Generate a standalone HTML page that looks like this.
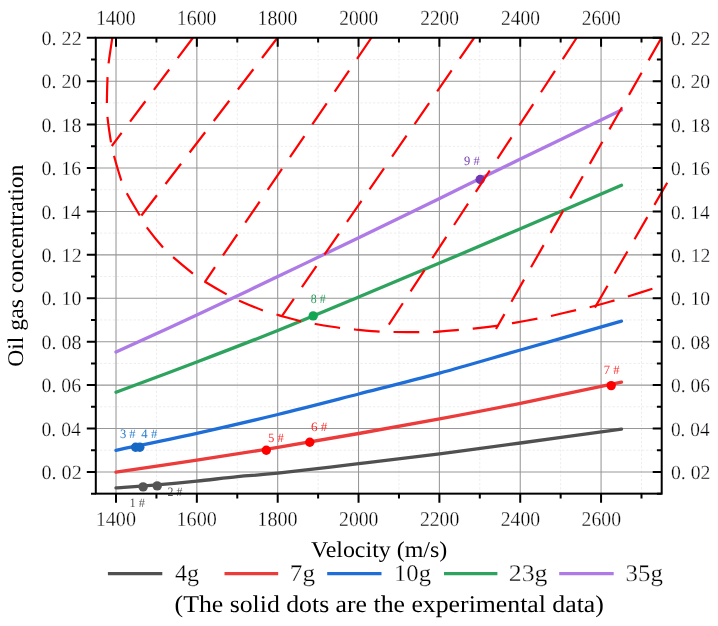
<!DOCTYPE html>
<html><head><meta charset="utf-8"><style>
html,body{margin:0;padding:0;background:#fff;}
body{width:718px;height:626px;overflow:hidden;}
svg{display:block;will-change:transform;}
text{font-family:"Liberation Serif",serif;text-rendering:geometricPrecision;}
.tk{stroke:#fff;stroke-width:0.3px;paint-order:normal;}
.gmin{fill:none;stroke:#ededed;stroke-width:1;stroke-dasharray:2.4 1.8;}
.gmaj{fill:none;stroke:#979797;stroke-width:1.05;}
.dash{fill:none;stroke:#ff0000;stroke-width:2.2;stroke-dasharray:25.5 14.17;stroke-linecap:butt;stroke-linejoin:miter;}
</style></head><body>
<svg width="718" height="626" viewBox="0 0 718 626">
<path d="M156.43,37.75 V493.65 M237.28,37.75 V493.65 M318.12,37.75 V493.65 M398.96,37.75 V493.65 M479.8,37.75 V493.65 M560.65,37.75 V493.65 M641.49,37.75 V493.65 M95.8,450.23 H661.7 M95.8,406.81 H661.7 M95.8,363.39 H661.7 M95.8,319.97 H661.7 M95.8,276.55 H661.7 M95.8,233.14 H661.7 M95.8,189.72 H661.7 M95.8,146.3 H661.7 M95.8,102.88 H661.7 M95.8,59.46 H661.7" class="gmin"/>
<path d="M116.01,37.75 V493.65 M196.85,37.75 V493.65 M277.7,37.75 V493.65 M358.54,37.75 V493.65 M439.38,37.75 V493.65 M520.23,37.75 V493.65 M601.07,37.75 V493.65 M95.8,471.94 H661.7 M95.8,428.52 H661.7 M95.8,385.1 H661.7 M95.8,341.68 H661.7 M95.8,298.26 H661.7 M95.8,254.85 H661.7 M95.8,211.43 H661.7 M95.8,168.01 H661.7 M95.8,124.59 H661.7 M95.8,81.17 H661.7" class="gmaj"/>
<path d="M116,487.9 C122.8,487.4 143.33,486.02 156.8,484.9 C170.27,483.78 183.32,482.58 196.8,481.2 C210.28,479.82 224.2,477.93 237.7,476.6 C251.2,475.27 257.63,475.35 277.8,473.2 C297.97,471.05 331.73,466.92 358.7,463.7 C385.67,460.48 412.65,457.35 439.6,453.9 C466.55,450.45 490.08,447.12 520.4,443 C550.72,438.88 604.65,431.5 621.5,429.2" fill="none" stroke="#505050" stroke-width="3.3" stroke-linecap="round"/>
<path d="M116,472.2 C129.47,470.18 169.83,464.23 196.8,460.1 C223.77,455.97 250.82,451.83 277.8,447.4 C304.78,442.97 331.73,438.25 358.7,433.5 C385.67,428.75 412.65,423.93 439.6,418.9 C466.55,413.87 490.08,409.43 520.4,403.3 C550.72,397.17 604.65,385.63 621.5,382.1" fill="none" stroke="#eb3b3b" stroke-width="3.3" stroke-linecap="round"/>
<path d="M116,450.3 C129.47,447.47 169.83,439.27 196.8,433.3 C223.77,427.33 250.82,421.05 277.8,414.5 C304.78,407.95 331.73,400.9 358.7,394 C385.67,387.1 412.65,380.43 439.6,373.1 C466.55,365.77 490.08,358.67 520.4,350 C550.72,341.33 604.65,325.92 621.5,321.1" fill="none" stroke="#1f6ed8" stroke-width="3.3" stroke-linecap="round"/>
<path d="M116,392.2 C129.47,387.17 169.83,372.28 196.8,362 C223.77,351.72 250.82,341.33 277.8,330.5 C304.78,319.67 331.73,308.23 358.7,297 C385.67,285.77 412.65,274.48 439.6,263.1 C466.55,251.72 490.08,241.67 520.4,228.7 C550.72,215.73 604.65,192.53 621.5,185.3" fill="none" stroke="#2ea35e" stroke-width="3.3" stroke-linecap="round"/>
<path d="M116,352 C129.47,345.85 169.83,327.68 196.8,315.1 C223.77,302.52 250.82,289.38 277.8,276.5 C304.78,263.62 331.73,250.82 358.7,237.8 C385.67,224.78 412.65,211.53 439.6,198.4 C466.55,185.27 490.08,173.72 520.4,159 C550.72,144.28 604.65,118.25 621.5,110.1" fill="none" stroke="#ae7be6" stroke-width="3.3" stroke-linecap="round"/>
<circle cx="143.1" cy="486.9" r="4.7" fill="#555555"/>
<circle cx="157.2" cy="485.9" r="4.7" fill="#555555"/>
<circle cx="135.6" cy="447.3" r="4.7" fill="#1568c4"/>
<circle cx="139.8" cy="447.3" r="4.7" fill="#1568c4"/>
<circle cx="266.3" cy="450.2" r="4.7" fill="#ff0000"/>
<circle cx="309.8" cy="442.3" r="4.7" fill="#ff0000"/>
<circle cx="611.2" cy="385.6" r="4.7" fill="#ff0000"/>
<circle cx="313.2" cy="315.9" r="4.7" fill="#11a653"/>
<circle cx="480.2" cy="179.5" r="4.7" fill="#7236b0"/>
<text transform="translate(129.51,506.65) scale(0.9697,1)" font-size="12.80" fill="#555555">1 &#35;</text>
<text transform="translate(167.58,495.57) scale(0.9272,1)" font-size="12.80" fill="#555555">2 &#35;</text>
<text transform="translate(119.90,438.27) scale(0.9832,1)" font-size="12.80" fill="#2a7ccc">3 &#35;</text>
<text transform="translate(141.35,438.22) scale(0.9927,1)" font-size="12.80" fill="#2a7ccc">4 &#35;</text>
<text transform="translate(267.96,442.07) scale(0.9915,1)" font-size="12.80" fill="#ff2a2a">5 &#35;</text>
<text transform="translate(310.95,431.47) scale(1.0242,1)" font-size="12.80" fill="#ff2a2a">6 &#35;</text>
<text transform="translate(603.87,374.17) scale(0.9849,1)" font-size="12.80" fill="#ff2a2a">7 &#35;</text>
<text transform="translate(310.85,302.62) scale(0.9291,1)" font-size="12.80" fill="#2a9a5a">8 &#35;</text>
<text transform="translate(464.10,165.17) scale(0.9766,1)" font-size="12.80" fill="#7a3fb5">9 &#35;</text>
<path d="M112.3,37.9 C111.65,42.37 109.2,58 108.4,64.7 C107.6,71.4 107.75,71.55 107.5,78.1 C107.25,84.65 106.9,97.45 106.9,104 C106.9,110.55 106.78,110.82 107.5,117.4 C108.22,123.98 110.1,137.02 111.2,143.5 C112.3,149.98 112.33,149.9 114.1,156.3 C115.87,162.7 119.52,175.43 121.8,181.9 C124.08,188.37 124.68,189.3 127.8,195.1 C130.92,200.9 137.18,211.1 140.5,216.7 C143.82,222.3 143.83,223.43 147.7,228.7 C151.57,233.97 159.32,243.43 163.7,248.3 C168.08,253.17 169,253.58 174,257.9 C179,262.22 188.53,270.22 193.7,274.2 C198.87,278.18 199.35,278.35 205,281.8 C210.65,285.25 221.78,291.72 227.6,294.9 C233.42,298.08 233.87,298.25 239.9,300.9 C245.93,303.55 257.55,308.48 263.8,310.8 C270.05,313.12 274.38,313.9 277.4,314.8 C280.42,315.7 277.83,315.08 281.9,316.2 C285.97,317.32 296.22,320.2 301.8,321.5 C307.38,322.8 308.92,322.9 315.4,324 C321.88,325.1 334.12,327.18 340.7,328.1 C347.28,329.02 348.25,328.9 354.9,329.5 C361.55,330.1 374.05,331.28 380.6,331.7 C387.15,332.12 387.57,331.92 394.2,332 C400.83,332.08 413.7,332.2 420.4,332.2 C427.1,332.2 427.83,332.4 434.4,332 C440.97,331.6 453.3,330.37 459.8,329.8 C466.3,329.23 466.62,329.35 473.4,328.6 C480.18,327.85 493.93,326.22 500.5,325.3 C507.07,324.38 506.4,324.25 512.8,323.1 C519.2,321.95 532.33,319.63 538.9,318.4 C545.47,317.17 545.85,317.12 552.2,315.7 C558.55,314.28 570.62,311.35 577,309.9 C583.38,308.45 584.08,308.63 590.5,307 C596.92,305.37 609.13,301.88 615.5,300.1 C621.87,298.32 622.33,298.25 628.7,296.3 C635.07,294.35 649.53,289.72 653.7,288.4" class="dash"/>
<path d="M193,37.75 L111.8,146" class="dash"/>
<path d="M277.5,37.75 L140.5,216.7" class="dash"/>
<path d="M371.4,37.75 L205,281.8" class="dash"/>
<path d="M474.2,37.75 L281.9,316.2" class="dash"/>
<path d="M576.7,37.75 L384.2,331.7" class="dash"/>
<path d="M661.2,38.2 L496,329" class="dash"/>
<path d="M667.2,182.8 L594.9,307.6" class="dash"/>
<rect x="95.8" y="37.75" width="565.9" height="455.9" fill="none" stroke="#000" stroke-width="2"/>
<path d="M116.01,493.65 V502.65 M116.01,37.75 V46.75 M156.43,493.65 V498.45 M156.43,37.75 V42.55 M196.85,493.65 V502.65 M196.85,37.75 V46.75 M237.28,493.65 V498.45 M237.28,37.75 V42.55 M277.7,493.65 V502.65 M277.7,37.75 V46.75 M318.12,493.65 V498.45 M318.12,37.75 V42.55 M358.54,493.65 V502.65 M358.54,37.75 V46.75 M398.96,493.65 V498.45 M398.96,37.75 V42.55 M439.38,493.65 V502.65 M439.38,37.75 V46.75 M479.8,493.65 V498.45 M479.8,37.75 V42.55 M520.23,493.65 V502.65 M520.23,37.75 V46.75 M560.65,493.65 V498.45 M560.65,37.75 V42.55 M601.07,493.65 V502.65 M601.07,37.75 V46.75 M641.49,493.65 V498.45 M641.49,37.75 V42.55 M95.8,493.65 H91 M661.7,493.65 H656.9 M95.8,471.94 H86.8 M661.7,471.94 H652.7 M95.8,450.23 H91 M661.7,450.23 H656.9 M95.8,428.52 H86.8 M661.7,428.52 H652.7 M95.8,406.81 H91 M661.7,406.81 H656.9 M95.8,385.1 H86.8 M661.7,385.1 H652.7 M95.8,363.39 H91 M661.7,363.39 H656.9 M95.8,341.68 H86.8 M661.7,341.68 H652.7 M95.8,319.97 H91 M661.7,319.97 H656.9 M95.8,298.26 H86.8 M661.7,298.26 H652.7 M95.8,276.55 H91 M661.7,276.55 H656.9 M95.8,254.85 H86.8 M661.7,254.85 H652.7 M95.8,233.14 H91 M661.7,233.14 H656.9 M95.8,211.43 H86.8 M661.7,211.43 H652.7 M95.8,189.72 H91 M661.7,189.72 H656.9 M95.8,168.01 H86.8 M661.7,168.01 H652.7 M95.8,146.3 H91 M661.7,146.3 H656.9 M95.8,124.59 H86.8 M661.7,124.59 H652.7 M95.8,102.88 H91 M661.7,102.88 H656.9 M95.8,81.17 H86.8 M661.7,81.17 H652.7 M95.8,59.46 H91 M661.7,59.46 H656.9 M95.8,37.75 H86.8 M661.7,37.75 H652.7" stroke="#000" stroke-width="2" fill="none"/>
<text transform="translate(95.91,25.04) scale(0.9279,1)" font-size="21.45" fill="#000" class="tk">1400</text>
<text transform="translate(95.64,525.64) scale(0.9602,1)" font-size="21.01" fill="#000" class="tk">1400</text>
<text transform="translate(176.75,25.04) scale(0.9279,1)" font-size="21.45" fill="#000" class="tk">1600</text>
<text transform="translate(176.48,525.64) scale(0.9602,1)" font-size="21.01" fill="#000" class="tk">1600</text>
<text transform="translate(257.59,25.04) scale(0.9279,1)" font-size="21.45" fill="#000" class="tk">1800</text>
<text transform="translate(257.32,525.64) scale(0.9602,1)" font-size="21.01" fill="#000" class="tk">1800</text>
<text transform="translate(339.33,25.04) scale(0.9066,1)" font-size="21.45" fill="#000" class="tk">2000</text>
<text transform="translate(339.07,525.64) scale(0.9382,1)" font-size="21.01" fill="#000" class="tk">2000</text>
<text transform="translate(420.18,25.04) scale(0.9066,1)" font-size="21.45" fill="#000" class="tk">2200</text>
<text transform="translate(419.91,525.64) scale(0.9382,1)" font-size="21.01" fill="#000" class="tk">2200</text>
<text transform="translate(501.02,25.04) scale(0.9066,1)" font-size="21.45" fill="#000" class="tk">2400</text>
<text transform="translate(500.76,525.64) scale(0.9382,1)" font-size="21.01" fill="#000" class="tk">2400</text>
<text transform="translate(581.86,25.04) scale(0.9066,1)" font-size="21.45" fill="#000" class="tk">2600</text>
<text transform="translate(581.60,525.64) scale(0.9382,1)" font-size="21.01" fill="#000" class="tk">2600</text>
<text transform="translate(41.48,479.16)" font-size="20.15" fill="#000" class="tk">0. 02</text>
<text transform="translate(670.90,479.16) scale(0.9963,1)" font-size="19.85" fill="#000" class="tk">0. 02</text>
<text transform="translate(41.50,435.74) scale(0.9794,1)" font-size="20.15" fill="#000" class="tk">0. 04</text>
<text transform="translate(670.91,435.74) scale(0.9758,1)" font-size="19.85" fill="#000" class="tk">0. 04</text>
<text transform="translate(41.49,392.32) scale(0.9865,1)" font-size="20.15" fill="#000" class="tk">0. 06</text>
<text transform="translate(670.91,392.32) scale(0.9829,1)" font-size="19.85" fill="#000" class="tk">0. 06</text>
<text transform="translate(41.49,348.90) scale(0.9906,1)" font-size="20.15" fill="#000" class="tk">0. 08</text>
<text transform="translate(670.91,348.91) scale(0.9870,1)" font-size="19.85" fill="#000" class="tk">0. 08</text>
<text transform="translate(41.49,305.48) scale(0.9906,1)" font-size="20.15" fill="#000" class="tk">0. 10</text>
<text transform="translate(670.91,305.49) scale(0.9870,1)" font-size="19.85" fill="#000" class="tk">0. 10</text>
<text transform="translate(41.48,262.06)" font-size="20.15" fill="#000" class="tk">0. 12</text>
<text transform="translate(670.90,262.07) scale(0.9963,1)" font-size="19.85" fill="#000" class="tk">0. 12</text>
<text transform="translate(41.50,218.64) scale(0.9794,1)" font-size="20.15" fill="#000" class="tk">0. 14</text>
<text transform="translate(670.91,218.65) scale(0.9758,1)" font-size="19.85" fill="#000" class="tk">0. 14</text>
<text transform="translate(41.49,175.23) scale(0.9865,1)" font-size="20.15" fill="#000" class="tk">0. 16</text>
<text transform="translate(670.91,175.23) scale(0.9829,1)" font-size="19.85" fill="#000" class="tk">0. 16</text>
<text transform="translate(41.49,131.81) scale(0.9906,1)" font-size="20.15" fill="#000" class="tk">0. 18</text>
<text transform="translate(670.91,131.81) scale(0.9870,1)" font-size="19.85" fill="#000" class="tk">0. 18</text>
<text transform="translate(41.49,88.39) scale(0.9906,1)" font-size="20.15" fill="#000" class="tk">0. 20</text>
<text transform="translate(670.91,88.39) scale(0.9870,1)" font-size="19.85" fill="#000" class="tk">0. 20</text>
<text transform="translate(41.48,44.97)" font-size="20.15" fill="#000" class="tk">0. 22</text>
<text transform="translate(670.90,44.97) scale(0.9963,1)" font-size="19.85" fill="#000" class="tk">0. 22</text>
<text transform="translate(311.01,557.41) scale(1.0577,1)" font-size="22.64" fill="#000">Velocity (m/s)</text>
<text transform="translate(23.46,366.79) rotate(-90) scale(1.0551,1)" font-size="22.42" fill="#000">Oil gas concentration</text>
<line x1="107.9" y1="573.6" x2="162.3" y2="573.6" stroke="#505050" stroke-width="3.2"/>
<text transform="translate(174.92,581.13) scale(1.0068,1)" font-size="23.90" fill="#000" class="tk">4g</text>
<line x1="224.5" y1="573.6" x2="278.2" y2="573.6" stroke="#eb3b3b" stroke-width="3.2"/>
<text transform="translate(289.84,581.03) scale(1.0529,1)" font-size="23.90" fill="#000" class="tk">7g</text>
<line x1="327.2" y1="573.6" x2="381.5" y2="573.6" stroke="#1f6ed8" stroke-width="3.2"/>
<text transform="translate(394.03,581.32) scale(1.0310,1)" font-size="23.90" fill="#000" class="tk">10g</text>
<line x1="444.0" y1="573.6" x2="497.4" y2="573.6" stroke="#2ea35e" stroke-width="3.2"/>
<text transform="translate(508.76,581.22) scale(1.0810,1)" font-size="23.90" fill="#000" class="tk">23g</text>
<line x1="559.2" y1="573.6" x2="613.7" y2="573.6" stroke="#ae7be6" stroke-width="3.2"/>
<text transform="translate(625.61,581.22) scale(1.0402,1)" font-size="23.90" fill="#000" class="tk">35g</text>
<text transform="translate(174.57,612.40) scale(1.0715,1)" font-size="24.06" fill="#000">(The solid dots are the experimental data)</text>
</svg>
</body></html>
